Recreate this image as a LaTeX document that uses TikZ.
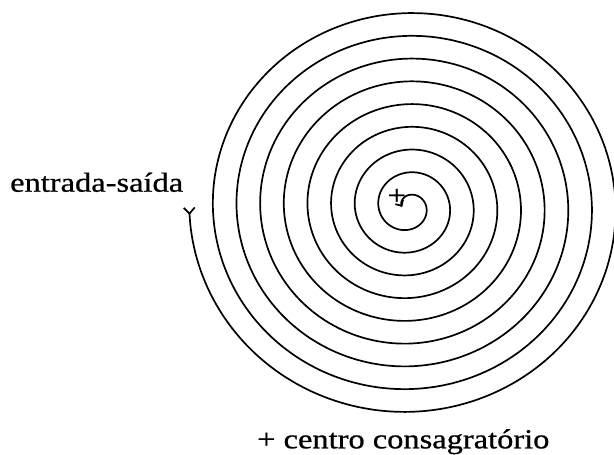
\documentclass[tikz,border=0pt]{standalone}
\usepackage{fontspec}
\setmainfont{Liberation Serif}[FakeStretch=1.18,FakeBold=0.8]
\usetikzlibrary{arrows.meta}
\begin{document}
\begin{tikzpicture}[x=1pt,y=-1pt,
  lbl/.style={inner sep=0pt,font=\fontsize{27.5}{32}\selectfont},
  espiral/.style={line width=1.7pt,{Straight Barb[reversed,length=6pt,width=11pt]}-{Straight Barb[length=4.5pt,width=9pt]}}]
  \useasboundingbox (0,0) rectangle (614,455);
  % espiral de fora para dentro: centro (408.3,206.8), passo 23.66 por volta
  \draw[espiral] plot[smooth,domain=0:3240,samples=721,variable=\t]
    ({408.3+(18+0.065722*(3060-\t))*cos(3060-\t)},{206.8+0.962*(18+0.065722*(3060-\t))*sin(3060-\t)});
  \node[lbl] (cruz) at (396.7,196.7) {+};
  \node[lbl,anchor=base west] (entrada) at (10,191.7) {entrada-saída};
  \node[lbl,anchor=base] (centro) at (403.3,448.3) {+ centro consagratório};
\end{tikzpicture}
\end{document}
